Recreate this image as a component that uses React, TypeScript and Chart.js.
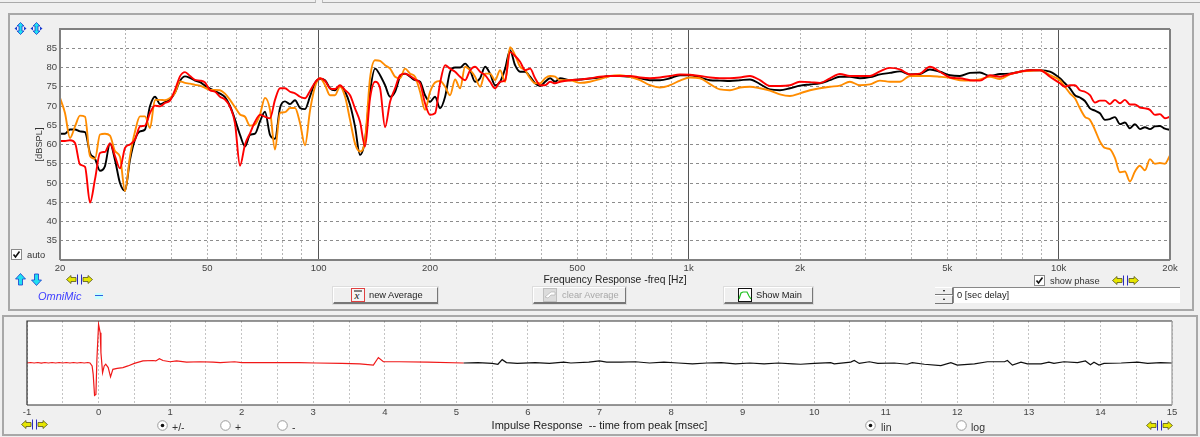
import React, { useEffect, useRef } from "react";
import { Chart, registerables } from "chart.js";

Chart.register(...registerables);

const FREQ_HZ = [
  20, 20.63, 21.28, 21.96, 22.65, 23.37, 24.11, 24.87, 25.65, 26.46,
  27.3, 28.16, 29.05, 29.97, 30.92, 31.9, 32.9, 33.94, 35.02, 36.12,
  37.27, 38.44, 39.66, 40.91, 42.2, 43.54, 44.91, 46.33, 47.8, 49.31,
  50.87, 52.47, 54.13, 55.84, 57.61, 59.43, 61.31, 63.25, 65.24, 67.31,
  69.43, 71.63, 73.89, 76.23, 78.64, 81.12, 83.69, 86.33, 89.06, 91.88,
  94.78, 97.78, 100.9,
  104.1, 107.3, 110.7, 114.2, 117.9, 121.6, 125.4, 129.4, 133.5, 137.7, 142.1, 146.6, 151.2, 156, 160.9, 166, 171.2, 176.7, 182.2,
  188, 193.9, 200.1, 206.4, 212.9, 219.7, 226.6, 233.8, 241.2, 248.8, 256.7, 264.8, 273.2, 281.8, 290.7, 299.9, 309.4, 319.2, 329.2, 339.6, 350.4, 361.5, 372.9, 384.7, 396.8, 409.4, 422.3, 435.7, 449.4,
  478, 509, 541, 576, 613, 652, 694, 739, 786, 837, 890, 948,
  1008, 1073, 1142, 1215, 1293, 1376, 1465, 1559, 1659, 1765, 1879, 1999, 2128, 2264, 2410, 2564, 2729, 2904, 3091,
  3289, 3500, 3725, 3964, 4219, 4490, 4778, 5085, 5411, 5759, 6128, 6522, 6941, 7386, 7861, 8365, 8902, 9474,
  10082, 10401, 10730, 11069, 11419, 11780, 12152, 12536, 12932, 13341, 13762, 14198, 14646, 15109, 15586, 16079, 16587, 17112, 17652, 18210, 18785, 19379, 20000,
];

const BLACK_DB = [
  62.8, 62.8, 63.9, 63.9, 63.4, 63.2, 57.8, 56.3, 53.2, 54.4,
  60.3, 56, 50, 48, 56, 61.3, 63.4, 63.9, 70, 72.4,
  70.5, 71, 71.7, 73.5, 76.5, 77.7, 77.3, 76.6, 76.2, 75.3,
  74.5, 73.9, 73.2, 72.3, 70, 66.5, 62.5, 59.5, 62.5, 62.8,
  66, 68.5, 62.5, 61.5, 69.5, 71.2, 70.5, 71.5, 69.5, 69.2,
  72.5, 76, 77,
  76.7, 74.6, 74.1, 75.3, 73.7, 70.3, 64.7, 57.3, 61.2, 73.7, 79.7, 78, 75.4, 72.4, 73.7, 77.6, 78.4, 77.6, 76.7,
  76.3, 72.8, 71.1, 72.4, 69.4, 72.4, 78.9, 80, 80, 81, 79.3, 76.3, 77.2, 80.2, 78.4, 75.4, 76.3, 79.7, 84.5, 80.6, 78.9, 78.9, 77.6, 75.9, 75.2, 76.3, 77.2, 76.3, 77.2,
  76.7, 76.9, 77.1, 77.4, 77.8, 77.8, 77.6, 77.2, 76.7, 76.7, 77.2, 78,
  78, 77.4, 76.7, 76.6, 76.5, 76.7, 76.9, 75.7, 74.3, 74.1, 74.6, 75.3, 75.6, 75.9, 76.7, 77.6, 77.6, 77.2, 77.5,
  78.2, 78.6, 79, 78.2, 78.3, 79.5, 78.9, 78, 77.8, 78.6, 78.7, 77.8, 78.3, 78.4, 78.9, 79.3, 79.3, 78.9,
  77.2, 75.9, 74.6, 72.8, 72.2, 71.3, 69.4, 68.8, 68.1, 66.4, 66.6, 67.1, 65.3, 65.7, 64.2, 65.3, 64, 64.5, 64, 64.7, 64.8, 64.1, 63.8,
];

const ORANGE_DB = [
  72.1, 68.2, 61.7, 64.7, 67.5, 67.2, 57, 56.3, 62.6, 62.8,
  62.3, 58.3, 56.8, 47.9, 57, 63.4, 67.3, 67.3, 64.3, 71.6,
  71.6, 71.5, 72.1, 73.4, 76.4, 76, 75.8, 75.5, 75.3, 74.7,
  74.2, 74.2, 74.1, 73.2, 71.6, 69.7, 67.8, 67.2, 64.9, 65.2,
  67.8, 72.1, 69, 58.7, 68.2, 68.4, 69.5, 69.5, 65.6, 59.8,
  68.8, 75, 77.2,
  75.4, 72.8, 72.8, 75, 72.4, 66.4, 60.3, 58.2, 61.2, 77.2, 81.9, 81.7, 80.6, 79.7, 77.6, 77.2, 79.7, 78.4, 77.6,
  73.7, 69, 73.7, 76.1, 76.5, 75, 72.8, 76.9, 74.6, 80.2, 79.3, 77.6, 75, 78.4, 78.4, 76.7, 79.3, 76.3, 85.3, 83.2, 80.2, 79.3, 77.2, 75.9, 75.9, 77.2, 77.8, 77.6, 76.7,
  76.7, 76, 76.3, 77, 77.8, 78, 77.6, 76.7, 75.4, 74.8, 75.4, 76.6,
  77.4, 77.2, 75.7, 74.3, 74.1, 74.8, 75, 74.6, 74, 73, 72.6, 73.3, 74.1, 74.6, 75, 75.3, 76.3, 75.4, 75.6,
  76.6, 76.3, 76.3, 77.8, 77.8, 77.8, 77.6, 77.3, 76.7, 76.6, 76.9, 77.6, 77, 78.2, 78.9, 79.1, 79.3, 78,
  76.7, 75, 73.3, 72, 69.4, 67.2, 66.4, 63.8, 60.8, 59.1, 58.8, 56.5, 52.8, 53, 50.4, 53, 54.5, 53.3, 56.2, 55, 55.2, 55, 57.2,
];

const RED_DB = [
  60.9, 60.9, 61.1, 60.4, 54.8, 54.2, 44.9, 51, 57.8, 58.1,
  60.3, 57, 53.8, 59.1, 60, 61.3, 64.7, 64.9, 68.2, 70.1,
  69.9, 70.8, 71.4, 74.2, 77.7, 78.8, 77.8, 76.8, 76.6, 76.1,
  74.1, 73.7, 72.4, 71.7, 69.8, 65.5, 54.5, 60, 62.9, 65.9,
  67.7, 67.2, 66.8, 71.6, 74.6, 74.6, 73.7, 73.3, 72.4, 72,
  73.9, 76.1, 77.2,
  76.5, 74.6, 74.4, 75.4, 74.1, 72.8, 69.4, 65.9, 59.5, 72, 76.3, 74.6, 64.5, 71.1, 74.6, 78, 78.4, 77.8, 76.9,
  75.9, 70.7, 67.7, 68.1, 75.9, 80.6, 79.7, 78.9, 77.6, 76.7, 79.3, 80.2, 78.9, 78, 76.3, 74.6, 76.3, 76.7, 84, 83, 81.5, 79.3, 79.7, 77.2, 75.4, 75.4, 76.3, 75.9, 76.3,
  76.7, 76.9, 77.2, 77.6, 77.8, 77.8, 77.8, 77.4, 77.2, 77.4, 77.8, 78.2,
  78.1, 77.8, 77.4, 77.2, 77.2, 77.4, 77.8, 76.7, 75.2, 75.2, 75.4, 76.3, 76.2, 76, 77.2, 78.3, 77.8, 77.8, 77.8,
  79, 79.9, 79.5, 78.2, 78.4, 80.2, 78.9, 77.4, 77.2, 76.7, 76.6, 78, 77.6, 78.3, 78.9, 79.3, 79.3, 77.6,
  75.9, 75, 75.4, 75.4, 74.1, 73.7, 72.8, 70.9, 71.4, 71.4, 70.5, 71.6, 70.7, 71.6, 70.4, 70.4, 69.6, 69.4, 69, 67.7, 67.9, 66.8, 67.2,
];

const FREQ_TICKS = [
  20, 30, 40, 50, 60, 70, 80, 90, 100, 200, 300, 400, 500, 600, 700, 800, 900,
  1000, 2000, 3000, 4000, 5000, 6000, 7000, 8000, 9000, 10000, 20000,
];
const FREQ_LABELS: Record<number, string> = {
  20: "20", 50: "50", 100: "100", 200: "200", 500: "500",
  1000: "1k", 2000: "2k", 5000: "5k", 10000: "10k", 20000: "20k",
};
const DARK_FREQ_LINES = [100, 1000, 10000];
const DB_LABELS = [35, 40, 45, 50, 55, 60, 65, 70, 75, 80, 85];

const IMPULSE_RED_MS = [
  -1, -0.95, -0.9, -0.85, -0.8, -0.75, -0.7, -0.65, -0.6, -0.55, -0.5, -0.45, -0.4, -0.35, -0.3, -0.25, -0.2, -0.15,
  -0.12, -0.09, -0.075, -0.056, -0.037, -0.023, 0, 0.023, 0.033, 0.056, 0.079, 0.1, 0.135, 0.167, 0.2, 0.26, 0.34,
  0.41, 0.5, 0.62, 0.76, 0.8, 0.85, 0.9, 1, 1.09, 1.23, 1.42, 1.6, 1.7, 1.9, 2, 2.8, 3.04, 3.4, 3.65, 3.84, 3.91,
  3.98, 4.2, 4.6, 5.1,
];
const IMPULSE_RED = [
  0, 0.012, 0, 0.012, -0.005, 0.012, 0, 0.012, 0, 0.012, 0, 0.012, 0, 0.012, 0, 0.012, 0, 0.012,
  0, -0.07, -0.27, -0.77, -0.75, 0.09, 0.92, 0.72, 0.25, -0.23, -0.07, -0.03, -0.11, -0.33, -0.15, -0.13, -0.11,
  -0.07, -0.01, 0.05, 0.06, 0.05, 0.1, 0.06, 0.03, 0.05, 0.02, 0.03, 0.02, 0.01, 0.03, 0.01, 0.01, 0, -0.01, -0.02, -0.05, 0.13,
  0.03, 0.03, 0.02, 0,
];
const IMPULSE_BLACK_MS = [
  5.1, 5.3, 5.5, 5.58, 5.64, 5.7, 5.85, 6.1, 6.3, 6.5, 6.6, 6.85, 7, 7.1, 7.3, 7.5, 7.7, 7.9, 8.1, 8.3, 8.5, 8.7, 8.9,
  9.1, 9.3, 9.5, 9.7, 9.81, 10, 10.23, 10.28, 10.51, 10.56, 10.63, 10.77, 10.89, 11.12, 11.3, 11.37, 11.54, 11.77,
  11.91, 12, 12.24, 12.42, 12.66, 12.7, 12.77, 12.89, 12.98, 13.17, 13.28, 13.35, 13.49, 13.68, 13.79, 13.86, 13.91,
  13.98, 14.05, 14.29, 14.52, 14.66, 14.84, 15,
];
const IMPULSE_BLACK = [
  0, 0.01, -0.01, -0.03, 0.08, 0.01, -0.01, 0.01, -0.01, 0.02, 0, 0.02, 0.05, 0.02, 0.02, 0.03, 0, 0.02, 0, -0.02, 0, 0.01, -0.02,
  0, -0.02, 0, -0.02, -0.03, -0.01, 0.01, -0.02, 0.02, 0.06, -0.01, 0.03, -0.01, 0, -0.03, 0.01, -0.03, -0.06,
  0.01, -0.05, -0.02, 0.03, 0.03, 0.06, -0.05, 0.02, -0.02, -0.02, 0.02, -0.01, 0.03, 0.01, 0.05, -0.04, 0.02,
  -0.05, -0.01, 0, 0.02, -0.01, 0.01, 0,
];

const UI_FONT = "'Liberation Sans', Arial, sans-serif";

const frame = (color: string, width: number, rightColor?: string) => ({
  id: "frame",
  beforeDraw(chart: any) {
    const { ctx, chartArea: a } = chart;
    ctx.save();
    ctx.fillStyle = "#fff";
    ctx.fillRect(a.left, a.top, a.width, a.height);
    ctx.restore();
  },
  afterDraw(chart: any) {
    const { ctx, chartArea: a } = chart;
    ctx.save();
    ctx.lineWidth = width;
    ctx.strokeStyle = color;
    ctx.beginPath();
    ctx.moveTo(a.left, a.bottom);
    ctx.lineTo(a.left, a.top);
    ctx.lineTo(a.right, a.top);
    ctx.moveTo(a.left, a.bottom);
    ctx.lineTo(a.right, a.bottom);
    ctx.stroke();
    ctx.strokeStyle = rightColor || color;
    ctx.beginPath();
    ctx.moveTo(a.right, a.top);
    ctx.lineTo(a.right, a.bottom);
    ctx.stroke();
    ctx.restore();
  },
});

const curve = (label: string, ys: number[], color: string) => ({
  label,
  data: FREQ_HZ.map((x, i) => ({ x, y: ys[i] })),
  borderColor: color,
  borderWidth: 1.9,
  pointRadius: 0,
  cubicInterpolationMode: "monotone" as const,
});

function FrequencyChart() {
  const ref = useRef<HTMLCanvasElement>(null);
  useEffect(() => {
    const chart = new Chart(ref.current!, {
      type: "line",
      data: {
        datasets: [
          curve("Red", RED_DB, "#ff0000"),
          curve("Orange", ORANGE_DB, "#ff8c00"),
          curve("Black", BLACK_DB, "#000000"),
        ],
      },
      options: {
        animation: false,
        responsive: false,
        devicePixelRatio: 1,
        layout: { padding: { left: 34, right: 30, top: 29, bottom: 14 } },
        plugins: { legend: { display: false }, tooltip: { enabled: false } },
        scales: {
          x: {
            type: "logarithmic",
            min: 20,
            max: 20000,
            afterBuildTicks: (s: any) => {
              s.ticks = FREQ_TICKS.map((value) => ({ value }));
            },
            afterFit: (s: any) => {
              s.height = 26;
            },
            grid: {
              drawTicks: false,
              color: (c: any) => (DARK_FREQ_LINES.includes(c.tick?.value) ? "#555555" : "#b4b4b4"),
              lineWidth: 1,
            },
            border: {
              display: false,
              dash: (c: any) => (DARK_FREQ_LINES.includes(c.tick?.value) ? [] : [2, 2]),
            },
            ticks: {
              autoSkip: false,
              maxRotation: 0,
              padding: 3,
              color: "#444444",
              font: { family: UI_FONT, size: 9.5 },
              callback: (v: any) => FREQ_LABELS[Number(v)] ?? "",
            },
            title: {
              display: true,
              text: "Frequency Response -freq [Hz]",
              color: "#222222",
              font: { family: UI_FONT, size: 10.3 },
              padding: { top: 0, bottom: 0 },
            },
          },
          y: {
            type: "linear",
            min: 30,
            max: 90,
            afterFit: (s: any) => {
              s.width = 26;
            },
            grid: { drawTicks: false, color: "#8c8c8c", lineWidth: 1 },
            border: { display: false, dash: [3, 3] },
            ticks: {
              stepSize: 5,
              padding: 3,
              color: "#444444",
              font: { family: UI_FONT, size: 9.5 },
              callback: (v: any) => (DB_LABELS.includes(Number(v)) ? String(v) : ""),
            },
            title: {
              display: true,
              text: "[dBSPL]",
              color: "#333333",
              font: { family: UI_FONT, size: 9.3 },
              padding: { top: 0, bottom: 0 },
            },
          },
        },
      },
      plugins: [frame("#808080", 2)],
    } as any);
    return () => chart.destroy();
  }, []);
  return <canvas ref={ref} width={1200} height={300} style={{ position: "absolute", left: 0, top: 0 }} />;
}

function ImpulseChart() {
  const ref = useRef<HTMLCanvasElement>(null);
  useEffect(() => {
    const line = (label: string, xs: number[], ys: number[], color: string) => ({
      label,
      data: xs.map((x, i) => ({ x, y: ys[i] })),
      borderColor: color,
      borderWidth: 1.2,
      pointRadius: 0,
      tension: 0,
    });
    const chart = new Chart(ref.current!, {
      type: "line",
      data: {
        datasets: [
          line("Impulse early", IMPULSE_RED_MS, IMPULSE_RED, "#f01818"),
          line("Impulse late", IMPULSE_BLACK_MS, IMPULSE_BLACK, "#101010"),
        ],
      },
      options: {
        animation: false,
        responsive: false,
        devicePixelRatio: 1,
        layout: { padding: { left: 27, right: 28, top: 11, bottom: 4 } },
        plugins: { legend: { display: false }, tooltip: { enabled: false } },
        scales: {
          x: {
            type: "linear",
            min: -1,
            max: 15,
            afterFit: (s: any) => {
              s.height = 28;
            },
            grid: { drawTicks: false, color: "#c4c4c4", lineWidth: 1 },
            border: { display: false, dash: [2, 2] },
            ticks: {
              stepSize: 0.5,
              autoSkip: false,
              maxRotation: 0,
              padding: 2,
              color: "#444444",
              font: { family: UI_FONT, size: 9.5 },
              callback: (v: any) => (Number.isInteger(Number(v)) ? String(v) : ""),
            },
            title: {
              display: true,
              text: "Impulse Response  -- time from peak [msec]",
              color: "#222222",
              font: { family: UI_FONT, size: 11 },
              padding: { top: 0, bottom: 0 },
            },
          },
          y: { type: "linear", min: -1, max: 1, display: false },
        },
      },
      plugins: [frame("#303030", 1.2, "#999999")],
    } as any);
    return () => chart.destroy();
  }, []);
  return <canvas ref={ref} width={1200} height={127} style={{ position: "absolute", left: 0, top: 310 }} />;
}

const Box = ({ x, y, w, h, style }: any) => (
  <div style={{ position: "absolute", left: x, top: y, width: w, height: h, boxSizing: "border-box", ...style }} />
);

const Label = ({ x, y, children, style }: any) => (
  <div style={{ position: "absolute", left: x, top: y, font: `9.3px ${UI_FONT}`, color: "#333", whiteSpace: "pre", lineHeight: "12px", ...style }}>
    {children}
  </div>
);

const Check = ({ x, y }: any) => (
  <svg width={11} height={11} style={{ position: "absolute", left: x, top: y }}>
    <rect x={0.5} y={0.5} width={10} height={10} fill="#fff" stroke="#8a8a8a" />
    <path d="M2.5 5.5 L4.5 8 L8.5 2.5" fill="none" stroke="#111" strokeWidth={1.6} />
  </svg>
);

const Radio = ({ x, y, on }: any) => (
  <svg width={11} height={11} style={{ position: "absolute", left: x, top: y }}>
    <circle cx={5.5} cy={5.5} r={4.8} fill="#fff" stroke="#9a9a9a" />
    {on && <circle cx={5.5} cy={5.5} r={1.8} fill="#111" />}
  </svg>
);

const YellowArrows = ({ x, y }: any) => (
  <svg width={27} height={11} style={{ position: "absolute", left: x, top: y }}>
    <path d="M0.5 5.5 L5 1.5 V3.5 H10 V7.5 H5 V9.5 Z" fill="#e6e600" stroke="#55551a" strokeWidth={0.8} />
    <path d="M11.5 0.5 V10.5 M15.5 0.5 V10.5" stroke="#2a2ac0" strokeWidth={1} />
    <path d="M26.5 5.5 L22 1.5 V3.5 H17 V7.5 H22 V9.5 Z" fill="#e6e600" stroke="#55551a" strokeWidth={0.8} />
  </svg>
);

const CyanArrow = ({ x, y, kind }: any) => (
  <svg width={13} height={13} style={{ position: "absolute", left: x, top: y }}>
    {kind === "double" && <path d="M6.5 0.5 L10 4 H8 V9 H10 L6.5 12.5 L3 9 H5 V4 H3 Z" fill="#20e0f0" stroke="#1a3ad0" strokeWidth={0.8} />}
    {kind === "double" && <path d="M0.5 6.5 L3 4.5 V8.5 Z M12.5 6.5 L10 4.5 V8.5 Z" fill="#1a3ad0" />}
    {kind === "up" && <path d="M6.5 0.5 L11.5 6 H8.5 V12 H4.5 V6 H1.5 Z" fill="#20e0f0" stroke="#1a3ad0" strokeWidth={0.8} />}
    {kind === "down" && <path d="M6.5 12.5 L11.5 7 H8.5 V1 H4.5 V7 H1.5 Z" fill="#20e0f0" stroke="#1a3ad0" strokeWidth={0.8} />}
  </svg>
);

const Button = ({ x, w, text, color, iconX, textX, children }: any) => (
  <div style={{ position: "absolute", left: x, top: 287, width: w, height: 17, boxSizing: "border-box", background: "#efefef", borderTop: "1px solid #fff", borderLeft: "1px solid #fff", borderRight: "1px solid #777", borderBottom: "2px solid #777", boxShadow: "0 0 0 1px #ddd" }}>
    <svg width={14} height={14} style={{ position: "absolute", left: iconX, top: 0 }}>{children}</svg>
    <Label x={textX} y={1} style={{ color }}>{text}</Label>
  </div>
);

export default function App() {
  return (
    <div style={{ position: "fixed", left: 0, top: 0, width: 1200, height: 437, overflow: "hidden", background: "#f0f0f0" }}>
      <Box x={0} y={0} w={316} h={3} style={{ borderRight: "1px solid #bbb", borderBottom: "1px solid #aaa" }} />
      <Box x={322} y={0} w={878} h={3} style={{ borderLeft: "1px solid #bbb", borderBottom: "1px solid #aaa" }} />
      <Box x={8} y={13} w={1186} h={298} style={{ border: "2px solid #a8a8a8" }} />
      <Box x={2} y={315} w={1196} h={121} style={{ border: "2px solid #a8a8a8" }} />

      <FrequencyChart />
      <ImpulseChart />

      <CyanArrow x={14} y={22} kind="double" />
      <CyanArrow x={30} y={22} kind="double" />
      <CyanArrow x={14} y={273} kind="up" />
      <CyanArrow x={30} y={273} kind="down" />
      <YellowArrows x={66} y={274} />
      <Check x={11} y={249} />
      <Label x={27} y={249}>auto</Label>
      <Label x={38} y={290} style={{ color: "#4040ff", fontStyle: "italic", fontSize: 11 }}>OmniMic</Label>
      <Box x={95} y={293} w={8} h={6} style={{ background: "#c8ffff" }} />
      <Box x={95} y={295} w={8} h={1} style={{ background: "#3060e0" }} />

      <Button x={333} w={105} text="new Average" color="#222" iconX={17} textX={35}>
        <rect x={0.5} y={0.5} width={13} height={13} fill="#f4f4f4" stroke="#e04040" />
        <text x={3.5} y={11} fontFamily="'Liberation Serif', serif" fontStyle="italic" fontSize={11} fill="#111">x</text>
        <path d="M3 3 H11" stroke="#111" />
      </Button>
      <Button x={533} w={93} text="clear Average" color="#a8a8a8" iconX={9} textX={28}>
        <rect x={0.5} y={0.5} width={13} height={13} fill="#dcdcdc" stroke="#c0c0c0" />
        <path d="M2 9 L8 4 H12 V7 H8 L5 10 Z" fill="#ffffff" stroke="#aaaaaa" strokeWidth={0.6} />
      </Button>
      <Button x={724} w={89} text="Show Main" color="#222" iconX={13} textX={31}>
        <rect x={0.5} y={0.5} width={13} height={13} fill="#fff" stroke="#111" />
        <path d="M1 11 L3 5 L5 4 H9 L11 8 L13 11" fill="none" stroke="#20c020" strokeWidth={1.2} />
      </Button>

      <Check x={1034} y={275} />
      <Label x={1050} y={275}>show phase</Label>
      <YellowArrows x={1112} y={275} />

      <Box x={935} y={287} w={18} h={8} style={{ background: "#eee", borderRight: "1px solid #777", borderBottom: "1px solid #777", borderTop: "1px solid #fff" }} />
      <Box x={935} y={295} w={18} h={9} style={{ background: "#eee", borderRight: "1px solid #777", borderBottom: "1px solid #777", borderTop: "1px solid #fff" }} />
      <svg width={18} height={17} style={{ position: "absolute", left: 935, top: 287 }}>
        <path d="M8 4 L9 3 L10 4 Z M8 12 L9 13 L10 12 Z" fill="#222" stroke="#222" strokeWidth={0.6} />
      </svg>
      <Box x={953} y={287} w={227} h={16} style={{ background: "#fff", borderTop: "1px solid #888", borderLeft: "1px solid #888" }} />
      <Label x={957} y={289} style={{ color: "#222" }}>0 [sec delay]</Label>

      <YellowArrows x={21} y={419} />
      <Radio x={157} y={420} on />
      <Label x={172} y={421} style={{ fontSize: 10.5 }}>+/-</Label>
      <Radio x={220} y={420} />
      <Label x={235} y={421} style={{ fontSize: 10.5 }}>+</Label>
      <Radio x={277} y={420} />
      <Label x={292} y={421} style={{ fontSize: 10.5 }}>-</Label>
      <Radio x={865} y={420} on />
      <Label x={881} y={421} style={{ fontSize: 10.5 }}>lin</Label>
      <Radio x={956} y={420} />
      <Label x={971} y={421} style={{ fontSize: 10.5 }}>log</Label>
      <YellowArrows x={1146} y={420} />
    </div>
  );
}
